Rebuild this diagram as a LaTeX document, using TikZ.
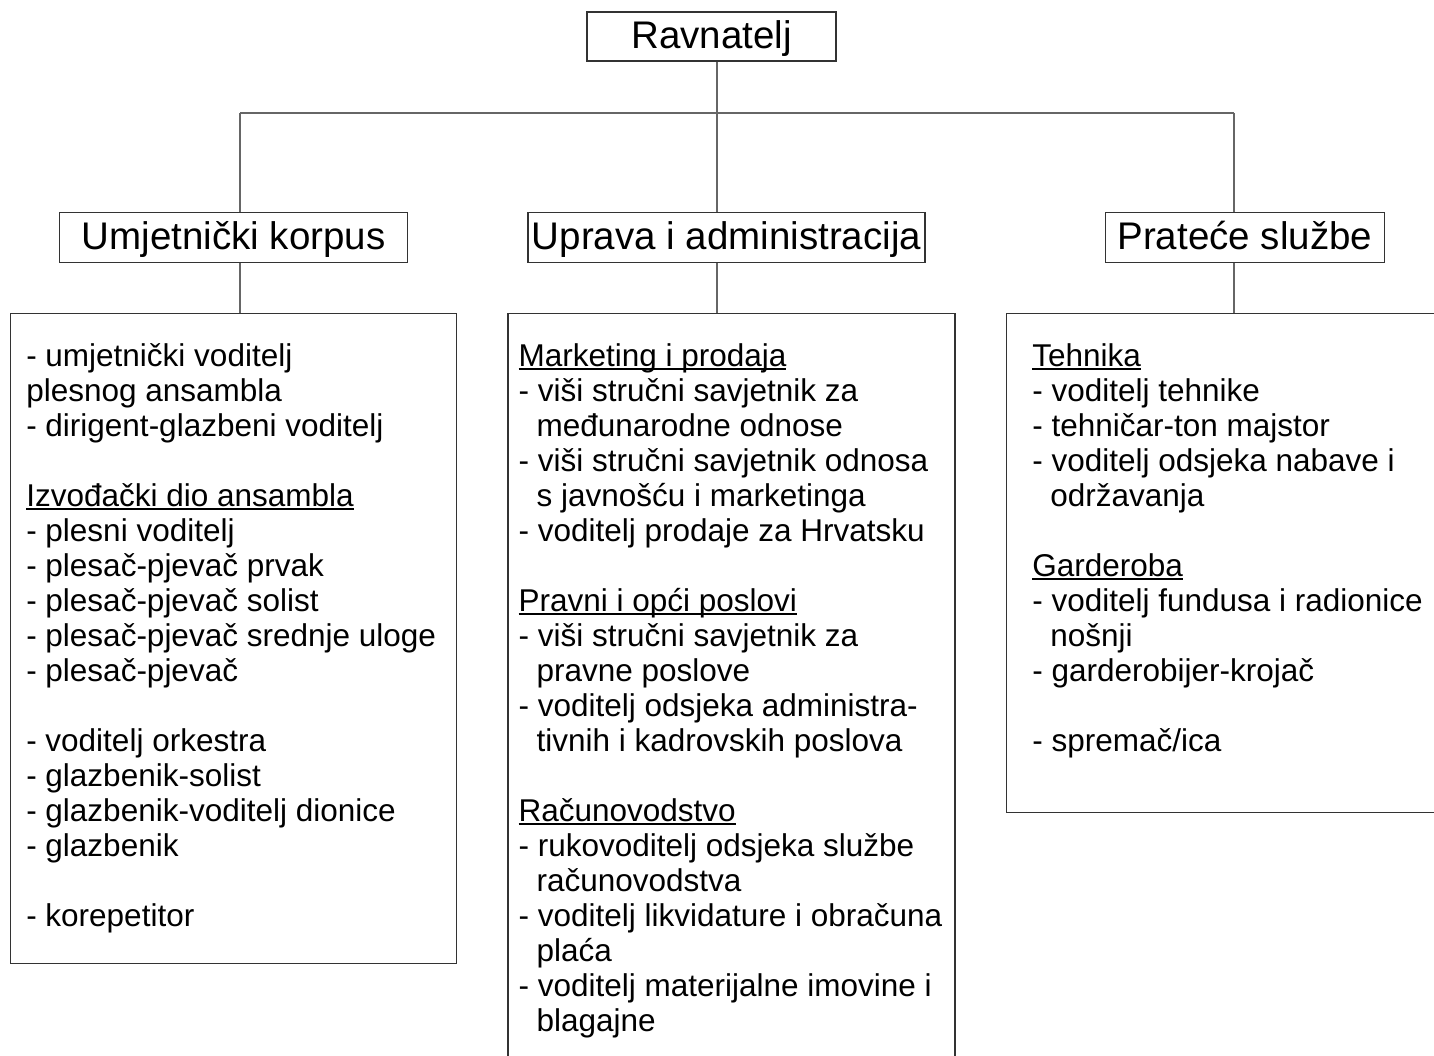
\documentclass[tikz,border=0pt]{standalone}
\usepackage{fontspec}
\setmainfont{Liberation Sans}
\usetikzlibrary{positioning}

\newsavebox\subheadbox
\newcommand\subhead[1]{\sbox\subheadbox{#1}\rlap{\rule[-4.3pt]{\wd\subheadbox}{2pt}}\usebox\subheadbox}
\newcommand\cont{\hspace*{18pt}}

\begin{document}
\begin{tikzpicture}[x=1pt,y=1pt,
  head/.style={rectangle,draw=black!80,line width=1.3pt,minimum height=50pt,inner sep=0pt,text height=29pt,text depth=5pt,font=\fontsize{38.5}{42}\selectfont},
  listbox/.style={rectangle,draw=black!80,line width=1.3pt,minimum width=446pt,inner sep=0pt},
  listtext/.style={align=left,inner sep=0pt,font=\fontsize{31.5}{35}\selectfont},
  link/.style={draw=black!60,line width=1.4pt},
  node distance=50pt]

\useasboundingbox (0,0) rectangle (1434,-1055);

\node (rav) [head,minimum width=249pt,minimum height=49pt] at (711.5,-36.5) {Ravnatelj};
\node (uprava) [head,minimum width=397pt,below=150pt of rav,xshift=15pt] {Uprava i administracija};
\node (korpus) [head,minimum width=348pt,left=119pt of uprava] {Umjetnički korpus};
\node (prateca) [head,minimum width=279pt,right=179pt of uprava] {Prateće službe};

\node (korpusbox) [listbox,minimum height=650pt,below=of korpus] {};
\node (upravabox) [listbox,minimum width=447pt,minimum height=754pt,below=of uprava,xshift=5pt] {};
\node (pratecabox) [listbox,minimum height=499pt,below=of prateca,xshift=-15pt] {};

\node (korpuslist) [listtext,below right=28.5pt and 16pt of korpusbox.north west] {\strut- umjetnički voditelj\\
  plesnog ansambla\\
  - dirigent-glazbeni voditelj\\[35pt]
  \subhead{Izvođački dio ansambla}\\
  - plesni voditelj\\
  - plesač-pjevač prvak\\
  - plesač-pjevač solist\\
  - plesač-pjevač srednje uloge\\
  - plesač-pjevač\\[35pt]
  - voditelj orkestra\\
  - glazbenik-solist\\
  - glazbenik-voditelj dionice\\
  - glazbenik\\[35pt]
  - korepetitor};

\node (upravalist) [listtext,below right=28.5pt and 11pt of upravabox.north west] {\strut\subhead{Marketing i prodaja}\\
  - viši stručni savjetnik za\\
  \cont međunarodne odnose\\
  - viši stručni savjetnik odnosa\\
  \cont s javnošću i marketinga\\
  - voditelj prodaje za Hrvatsku\\[35pt]
  \subhead{Pravni i opći poslovi}\\
  - viši stručni savjetnik za\\
  \cont pravne poslove\\
  - voditelj odsjeka administra-\\
  \cont tivnih i kadrovskih poslova\\[35pt]
  \subhead{Računovodstvo}\\
  - rukovoditelj odsjeka službe\\
  \cont računovodstva\\
  - voditelj likvidature i obračuna\\
  \cont plaća\\
  - voditelj materijalne imovine i\\
  \cont blagajne};

\node (pratecalist) [listtext,below right=28.5pt and 26pt of pratecabox.north west] {\strut\subhead{Tehnika}\\
  - voditelj tehnike\\
  - tehničar-ton majstor\\
  - voditelj odsjeka nabave i\\
  \cont održavanja\\[35pt]
  \subhead{Garderoba}\\
  - voditelj fundusa i radionice\\
  \cont nošnji\\
  - garderobijer-krojač\\[35pt]
  - spremač/ica};

% connectors
\coordinate (mid) at (717,-113);
\coordinate (busL) at (240,-113);
\coordinate (busR) at (1234,-113);
\draw [link] (rav.south -| mid) -- (mid);
\draw [link] (busL) -- (busR);
\draw [link] (busL) -- (busL |- korpus.north);
\draw [link] (mid) -- (mid |- uprava.north);
\draw [link] (busR) -- (busR |- prateca.north);
\draw [link] (busL |- korpus.south) -- (busL |- korpusbox.north);
\draw [link] (mid |- uprava.south) -- (mid |- upravabox.north);
\draw [link] (busR |- prateca.south) -- (busR |- pratecabox.north);
\end{tikzpicture}
\end{document}
